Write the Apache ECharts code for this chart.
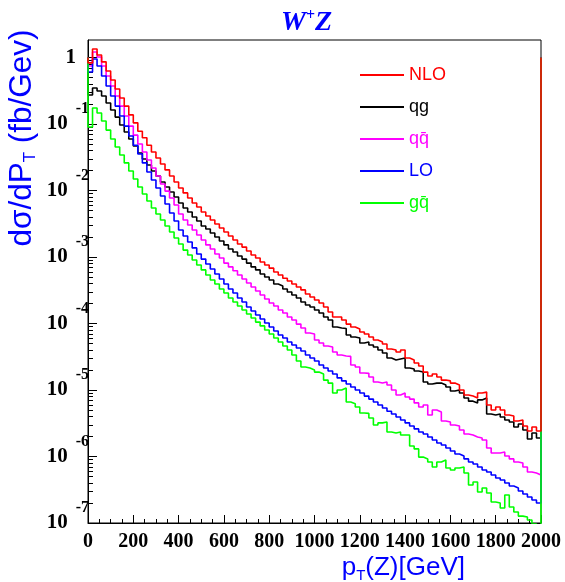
<!DOCTYPE html>
<html><head><meta charset="utf-8">
<script src="https://cdn.jsdelivr.net/npm/echarts@6.0.0/dist/echarts.min.js"></script>
<style>html,body{margin:0;padding:0;background:#fff}#c{width:565px;height:582px}</style>
</head><body><div id="c"></div>
<script>
// Histogram binning: 100 bins of 20 GeV from 0 to 2000 GeV
const binWidth = 20;
const edgeValue = 1;
const xMin = 0, xMax = 2000, xStep = 200;
const yMin = 1e-7, yMax = 1.833;
const yMajorTicks = [1e-7, 1e-6, 1e-5, 1e-4, 1e-3, 1e-2, 1e-1, 1];

const nlo = [0.83,1.34,1.09,0.86,0.627,0.459,0.336,0.246,0.186,0.137,
0.104,7.8e-2,6.2e-2,4.8e-2,3.8e-2,3.08e-2,2.5e-2,2.04e-2,1.65e-2,1.34e-2,
1.09e-2,9.2e-3,7.7e-3,6.5e-3,5.65e-3,4.75e-3,4.14e-3,3.6e-3,3.14e-3,2.73e-3,
2.38e-3,2.07e-3,1.8e-3,1.57e-3,1.41e-3,1.23e-3,1.07e-3,9.65e-4,8.4e-4,7.6e-4,
6.8e-4,5.95e-4,5.35e-4,4.8e-4,4.35e-4,3.93e-4,3.54e-4,3.2e-4,2.78e-4,2.5e-4,
2.26e-4,2.03e-4,1.77e-4,1.49e-4,1.25e-4,1.25e-4,1.13e-4,9.8e-5,8.87e-5,8.28e-5,
7.46e-5,6.96e-5,6.27e-5,5.65e-5,5.28e-5,4.92e-5,4.14e-5,4.0e-5,3.73e-5,4.0e-5,
3.03e-5,2.83e-5,2.55e-5,2.3e-5,1.86e-5,1.62e-5,1.74e-5,1.57e-5,1.41e-5,1.37e-5,
1.27e-5,1.19e-5,1.0e-5,8.4e-6,8.1e-6,7.6e-6,9.0e-6,9.3e-6,5.95e-6,5.0e-6,
5.55e-6,5.0e-6,4.2e-6,4.07e-6,3.42e-6,3.54e-6,2.88e-6,2.42e-6,2.78e-6,2.42e-6];

const qg = [0.273,0.348,0.314,0.264,0.207,0.162,0.127,9.65e-2,7.6e-2,5.95e-2,
4.67e-2,3.67e-2,2.98e-2,2.42e-2,1.96e-2,1.65e-2,1.34e-2,1.13e-2,9.5e-3,8.0e-3,
6.5e-3,5.46e-3,4.75e-3,4.0e-3,3.48e-3,2.93e-3,2.64e-3,2.3e-3,2.0e-3,1.74e-3,
1.52e-3,1.32e-3,1.19e-3,1.035e-3,9.3e-4,8.1e-4,7.1e-4,6.4e-4,5.55e-4,5.0e-4,
4.5e-4,3.93e-4,3.67e-4,3.3e-4,2.98e-4,2.68e-4,2.42e-4,2.1e-4,1.9e-4,1.77e-4,
1.6e-4,1.44e-4,1.25e-4,1.13e-4,8.87e-5,8.57e-5,8.4e-5,6.72e-5,6.27e-5,6.06e-5,
5.09e-5,5.28e-5,4.75e-5,4.43e-5,4.0e-5,3.6e-5,3.03e-5,2.83e-5,2.93e-5,3.03e-5,
2.14e-5,2.07e-5,1.93e-5,1.86e-5,1.32e-5,1.23e-5,1.27e-5,1.27e-5,1.19e-5,1.11e-5,
9.65e-6,1.0e-5,9.0e-6,7.6e-6,6.8e-6,6.4e-6,7.1e-6,7.6e-6,4.35e-6,4.2e-6,
4.35e-6,3.93e-6,3.54e-6,3.3e-6,2.78e-6,3.08e-6,2.5e-6,1.83e-6,2.26e-6,1.9e-6];

const qqbar = [0.746,1.21,1.02,0.746,0.528,0.373,0.264,0.186,0.132,9.3e-2,
6.8e-2,5.0e-2,3.8e-2,2.88e-2,2.18e-2,1.65e-2,1.25e-2,9.8e-3,7.7e-3,6.06e-3,
4.43e-3,3.6e-3,3.03e-3,2.55e-3,2.14e-3,1.8e-3,1.52e-3,1.32e-3,1.11e-3,9.65e-4,
8.1e-4,7.1e-4,6.2e-4,5.35e-4,4.67e-4,4.07e-4,3.54e-4,3.08e-4,2.68e-4,2.34e-4,
2.03e-4,1.83e-4,1.6e-4,1.44e-4,1.25e-4,1.13e-4,9.8e-5,8.57e-5,7.2e-5,6.96e-5,
5.65e-5,5.09e-5,4.59e-5,4.43e-5,3.73e-5,3.36e-5,3.25e-5,3.2e-5,2.38e-5,2.22e-5,
1.8e-5,1.78e-5,1.57e-5,1.32e-5,1.27e-5,1.32e-5,1.19e-5,1.0e-5,8.4e-6,9.0e-6,
7.85e-6,7.3e-6,6.4e-6,5.55e-6,5.95e-6,4.2e-6,5.0e-6,4.67e-6,3.42e-6,3.3e-6,
2.98e-6,2.88e-6,2.5e-6,2.18e-6,2.1e-6,1.96e-6,1.9e-6,1.77e-6,1.34e-6,1.13e-6,
1.13e-6,1.17e-6,1.02e-6,9.2e-7,8.28e-7,8.0e-7,6.96e-7,5.85e-7,5.65e-7,5.28e-7];

const lo = [0.606,0.95,0.746,0.528,0.373,0.264,0.186,0.132,9.3e-2,6.6e-2,
4.8e-2,3.54e-2,2.6e-2,1.9e-2,1.44e-2,1.09e-2,8.28e-3,6.27e-3,4.59e-3,3.48e-3,
2.55e-3,2.07e-3,1.68e-3,1.37e-3,1.11e-3,9.3e-4,7.85e-4,6.6e-4,5.55e-4,4.67e-4,
3.93e-4,3.3e-4,2.88e-4,2.42e-4,2.1e-4,1.77e-4,1.54e-4,1.34e-4,1.17e-4,1.02e-4,
8.87e-5,7.72e-5,6.72e-5,6.06e-5,5.28e-5,4.75e-5,4.28e-5,3.86e-5,3.36e-5,3.03e-5,
2.73e-5,2.38e-5,2.14e-5,1.93e-5,1.74e-5,1.52e-5,1.37e-5,1.23e-5,1.11e-5,1.0e-5,
9.0e-6,8.1e-6,7.3e-6,6.6e-6,5.95e-6,5.35e-6,4.8e-6,4.35e-6,3.93e-6,3.54e-6,
3.2e-6,2.88e-6,2.6e-6,2.34e-6,2.18e-6,1.96e-6,1.77e-6,1.6e-6,1.49e-6,1.34e-6,
1.21e-6,1.09e-6,1.02e-6,9.2e-7,8.28e-7,7.72e-7,6.96e-7,6.27e-7,5.85e-7,5.28e-7,
4.75e-7,4.43e-7,4.0e-7,3.6e-7,3.36e-7,3.03e-7,2.73e-7,2.46e-7,2.22e-7,2.0e-7];

const gqbar = [9.0e-2,0.174,0.146,0.111,8.1e-2,5.95e-2,4.5e-2,3.42e-2,2.6e-2,1.96e-2,
1.49e-2,1.13e-2,8.87e-3,6.96e-3,5.46e-3,4.43e-3,3.6e-3,2.93e-3,2.38e-3,1.93e-3,
1.57e-3,1.27e-3,1.07e-3,9.0e-4,7.6e-4,6.4e-4,5.35e-4,4.5e-4,3.93e-4,3.3e-4,
2.88e-4,2.42e-4,2.1e-4,1.83e-4,1.6e-4,1.39e-4,1.21e-4,1.05e-4,9.2e-5,8.0e-5,
6.96e-5,6.06e-5,5.28e-5,4.59e-5,4.0e-5,3.36e-5,2.73e-5,2.22e-5,2.14e-5,2.0e-5,
1.86e-5,1.74e-5,1.41e-5,1.27e-5,9.0e-6,1.0e-5,1.07e-5,6.6e-6,6.2e-6,5.55e-6,
4.5e-6,4.45e-6,3.8e-6,2.98e-6,3.2e-6,3.3e-6,2.34e-6,2.26e-6,2.34e-6,2.1e-6,
2.1e-6,1.44e-6,1.3e-6,9.8e-7,9.2e-7,8.28e-7,6.96e-7,8.28e-7,8.87e-7,6.72e-7,
6.27e-7,6.72e-7,6.96e-7,5.65e-7,3.73e-7,4.14e-7,2.93e-7,3.36e-7,2.83e-7,2.07e-7,
2.0e-7,1.68e-7,2.64e-7,1.74e-7,1.46e-7,1.27e-7,1.23e-7,1.11e-7,9.7e-8,7.8e-8];

const seriesDefs = [
  {name: 'NLO', values: nlo, color: '#ff0000'},
  {name: 'qg', values: qg, color: '#000000'},
  {name: 'q\u0071\u0304', values: qqbar, color: '#ff00ff'},
  {name: 'LO', values: lo, color: '#0000ff'},
  {name: 'g\u0071\u0304', values: gqbar, color: '#00ff00'}
];
// drawing order (last on top): qg, qqbar, LO, gqbar, NLO
const drawOrder = [1, 2, 3, 4, 0];

function histData(vals) {
  const d = [[xMin, edgeValue]];
  vals.forEach((v, i) => d.push([xMin + i * binWidth, v]));
  d.push([xMin + vals.length * binWidth, vals[vals.length - 1]]);
  d.push([xMin + vals.length * binWidth, edgeValue]);
  return d;
}

const minorTicks = [];
for (let e = -7; e < 0; e++) for (let k = 2; k <= 9; k++) minorTicks.push(k * Math.pow(10, e));

const serif = 'Liberation Serif, Times New Roman, serif';
const sans = 'Liberation Sans, Arial, Helvetica, sans-serif';

const chart = echarts.init(document.getElementById('c'), null, {renderer: 'canvas'});
chart.setOption({
  animation: false,
  backgroundColor: '#ffffff',
  title: {
    text: '{w|W}{p|+}{w|Z}',
    left: 276, top: 3,
    textStyle: {
      rich: {
        w: {fontFamily: serif, fontStyle: 'italic', fontWeight: 'bold', fontSize: 28, color: '#0000ff', lineHeight: 30, verticalAlign: 'middle'},
        p: {fontFamily: serif, fontWeight: 'bold', fontSize: 16, color: '#0000ff', lineHeight: 16, verticalAlign: 'top'}
      }
    }
  },
  legend: {
    orient: 'vertical', left: 355, top: 61,
    itemWidth: 44, itemHeight: 2, itemGap: 14, icon: 'rect',
    selectedMode: false,
    textStyle: {fontFamily: sans, fontSize: 18},
    data: seriesDefs.map(s => ({name: s.name, textStyle: {color: s.color}}))
  },
  grid: {left: 88, right: 24, top: 40, bottom: 59, show: true, borderColor: '#000', borderWidth: 1, containLabel: false, outerBoundsMode: 'none'},
  xAxis: {
    type: 'value', min: xMin, max: xMax, interval: xStep,
    axisLine: {show: true, lineStyle: {color: '#000', width: 1}},
    axisTick: {show: true, inside: true, length: 8, lineStyle: {color: '#000'}},
    minorTick: {show: true, splitNumber: 4, length: 4, lineStyle: {color: '#000'}},
    splitLine: {show: false},
    axisLabel: {fontFamily: serif, fontWeight: 'bold', fontSize: 20, color: '#000', margin: 9,
      formatter: v => String(v)}
  },
  yAxis: [{
    type: 'log', logBase: 10, min: yMin, max: yMax,
    axisLine: {show: true, lineStyle: {color: '#000', width: 1}},
    axisTick: {show: true, inside: true, length: 9, customValues: yMajorTicks, lineStyle: {color: '#000'}},
    splitLine: {show: false},
    axisLabel: {
      customValues: yMajorTicks,
      margin: -1,
      formatter: v => {
        const e = Math.round(Math.log10(v));
        return e === 0 ? '{one|1}' : '{b|10}{e|' + e + '}';
      },
      rich: {
        b: {fontFamily: serif, fontWeight: 'bold', fontSize: 21, lineHeight: 46, verticalAlign: 'middle', color: '#000'},
        e: {fontFamily: serif, fontWeight: 'bold', fontSize: 16, lineHeight: 16, verticalAlign: 'top', padding: [0, 0, 0, 8], color: '#000'},
        one: {fontFamily: serif, fontWeight: 'bold', fontSize: 21, padding: [0, 13, 0, 0], color: '#000'}
      }
    }
  }, {
    type: 'log', logBase: 10, min: yMin, max: yMax, position: 'left',
    axisLine: {show: false},
    axisTick: {show: true, inside: true, length: 5, customValues: minorTicks, lineStyle: {color: '#000'}},
    axisLabel: {show: false},
    splitLine: {show: false}
  }],
  graphic: [
    {type: 'text', x: 22, y: 138, rotation: Math.PI / 2,
     style: {text: '{a|d\u03c3/dP}{s|T}{a| (fb/Gev)}', align: 'center', verticalAlign: 'middle', fill: '#0000ff',
       rich: {a: {fontFamily: sans, fontSize: 31.5, lineHeight: 34, verticalAlign: 'middle', fill: '#0000ff'},
              s: {fontFamily: sans, fontSize: 17, lineHeight: 17, verticalAlign: 'bottom', fill: '#0000ff'}}}},
    {type: 'text', x: 465, y: 568,
     style: {text: '{a|p}{s|T}{a|(Z)[GeV]}', align: 'right', verticalAlign: 'middle', fill: '#0000ff',
       rich: {a: {fontFamily: sans, fontSize: 26, lineHeight: 30, verticalAlign: 'middle', fill: '#0000ff'},
              s: {fontFamily: sans, fontSize: 15, lineHeight: 15, verticalAlign: 'bottom', fill: '#0000ff'}}}}
  ],
  series: drawOrder.map(i => {
    const s = seriesDefs[i];
    return {
      name: s.name, type: 'line', step: 'end', yAxisIndex: 0,
      data: histData(s.values),
      showSymbol: false, symbol: 'none', clip: true,
      lineStyle: {color: s.color, width: 1.6},
      itemStyle: {color: s.color},
      emphasis: {disabled: true}
    };
  })
});
</script></body></html>
